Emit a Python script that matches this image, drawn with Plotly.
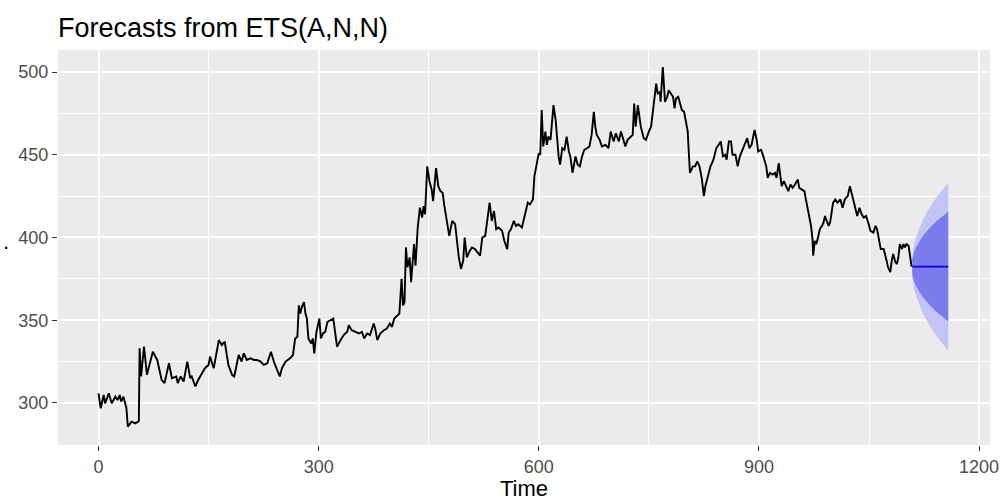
import plotly.graph_objects as go

# Observed series (time index, value)
time = [0, 3, 7, 9, 14, 18, 23, 26, 29, 31, 34, 38, 40, 45, 50, 55, 56, 58, 62, 66,
        74, 80, 86, 90, 96, 100, 106, 108, 112, 116, 121, 125, 127, 132, 136, 141, 145, 150, 152, 157,
        159, 164, 168, 172, 177, 182, 185, 191, 195, 198, 202, 207, 212, 216, 221, 225, 230, 235, 239, 242,
        247, 250, 255, 261, 265, 268, 271, 273, 275, 277, 280, 282, 284, 286, 290, 292, 294, 297, 301, 303,
        306, 309, 312, 316, 320, 323, 325, 330, 334, 339, 341, 345, 350, 355, 359, 362, 366, 370, 375, 377,
        380, 384, 389, 393, 397, 400, 403, 407, 410, 413, 415, 417, 419, 421, 424, 426, 430, 432, 435, 438,
        441, 443, 445, 448, 451, 454, 456, 460, 463, 466, 469, 471, 475, 478, 482, 486, 488, 491, 494, 497,
        499, 502, 506, 509, 513, 517, 520, 523, 527, 530, 533, 536, 539, 542, 545, 550, 553, 557, 559, 562,
        566, 569, 572, 577, 580, 583, 585, 588, 592, 594, 597, 600, 602, 604, 606, 609, 611, 613, 616, 620,
        623, 627, 629, 632, 635, 638, 641, 643, 646, 650, 653, 656, 659, 662, 666, 669, 672, 675, 677, 679,
        683, 686, 691, 695, 698, 702, 705, 709, 712, 715, 718, 721, 725, 728, 730, 732, 735, 737, 739, 743,
        746, 750, 753, 756, 760, 762, 765, 766, 769, 772, 775, 777, 780, 783, 785, 787, 790, 793, 795, 798,
        800, 803, 804, 806, 810, 813, 816, 819, 822, 825, 827, 830, 834, 836, 838, 842, 845, 848, 851, 854,
        856, 859, 862, 864, 868, 871, 874, 878, 881, 884, 887, 890, 894, 897, 899, 903, 906, 910, 912, 915,
        919, 922, 924, 927, 929, 931, 934, 937, 940, 943, 946, 949, 953, 955, 958, 962, 964, 966, 969, 971,
        973, 974, 976, 978, 980, 983, 986, 988, 990, 992, 995, 997, 1001, 1004, 1007, 1011, 1014, 1017, 1021, 1024,
        1028, 1031, 1034, 1037, 1040, 1043, 1046, 1049, 1052, 1056, 1059, 1061, 1064, 1066, 1070, 1072, 1074, 1076, 1079, 1081,
        1083, 1086, 1088, 1090, 1092, 1095, 1097, 1099, 1101, 1104, 1106, 1108]

value = [305.8, 296.8, 304.8, 299.8, 305.8, 299.8, 303.8, 301.8, 304.8, 300.8, 303.8, 297, 285.7, 288.7, 287.7, 289, 333, 316, 334, 317,
         331, 326, 314, 312, 324, 315, 316, 312, 316, 313, 325, 315, 316, 310, 314, 318, 321, 323, 328, 321,
         326, 338, 335, 337, 323, 317, 316, 329, 325, 330, 326, 327, 326, 326, 325, 323, 324, 331, 325, 322,
         316, 321, 325, 327, 329, 339, 340, 359, 354, 358, 361, 354, 351, 339, 336, 339, 330, 343, 351, 339,
         342, 343, 349, 350, 351, 341, 334, 338, 341, 343, 347, 344, 343, 342, 343, 339, 342, 341, 348, 345,
         338, 342, 344, 345, 348, 346, 351, 353, 354, 375, 359, 361, 394, 382, 388, 373, 396, 383, 406, 418,
         412, 419, 414, 443, 434, 429, 422, 442, 431, 428, 427, 420, 410, 401, 410, 408, 400, 388, 381, 386,
         400, 388, 392, 394, 393, 391, 389, 400, 401, 411, 421, 410, 416, 405, 406, 404, 398, 393, 403, 405,
         410, 407, 408, 406, 411, 416, 421, 420, 423, 437, 444, 451, 450, 477, 455, 464, 456, 461, 459, 480,
         471, 449, 444, 454, 453, 461, 452, 449, 439, 449, 444, 443, 449, 453, 454, 455, 462, 476, 467, 462,
         459, 455, 456, 454, 464, 458, 463, 458, 464, 460, 455, 459, 461, 462, 481, 467, 480, 472, 467, 460,
         459, 464, 467, 478, 493, 487, 488, 482, 503, 482, 485, 489, 487, 485, 478, 484, 485, 481, 477, 476,
         470, 464, 455, 439, 443, 443, 446, 443, 436, 425, 431, 437, 443, 445, 447, 454, 456, 458, 449, 450,
         447, 458, 458, 450, 450, 443, 449, 453, 457, 460, 454, 456, 465, 459, 452, 453, 449, 443, 436, 439,
         438, 439, 436, 445, 438, 431, 434, 431, 428, 432, 430, 432, 435, 430, 429, 428, 423, 418, 413, 407,
         399, 389, 398, 396, 399, 405, 407, 409, 413, 411, 407, 409, 421, 423, 421, 423, 418, 423, 425, 431,
         424, 417, 413, 418, 414, 412, 413, 409, 404, 403, 407, 405, 396, 393, 393, 390, 386, 382, 379, 386,
         390, 385, 384, 388, 396, 393, 396, 394, 396, 395, 388, 382.4]

# Forecast horizon (time index) with point forecast and prediction intervals
fc_time = [1109, 1110, 1112, 1115, 1118, 1123, 1128, 1133, 1138, 1143, 1148, 1153, 1158]
fc_mean = [382.4] * 13
lo80 = [377.7, 375.8, 373.0, 370.0, 367.6, 364.2, 361.4, 358.9, 356.7, 354.6, 352.7, 350.9, 349.2]
hi80 = [387.1, 389.0, 391.8, 394.8, 397.2, 400.6, 403.4, 405.9, 408.1, 410.2, 412.1, 413.9, 415.6]
lo95 = [375.2, 372.3, 368.0, 363.4, 359.7, 354.6, 350.3, 346.5, 343.1, 339.9, 337.0, 334.2, 331.6]
hi95 = [389.6, 392.5, 396.8, 401.4, 405.1, 410.2, 414.5, 418.3, 421.7, 424.9, 427.8, 430.6, 433.2]

x_ticks = [0, 300, 600, 900, 1200]
y_ticks = [300, 350, 400, 450, 500]

FONT = "Liberation Sans, Arial, sans-serif"

fig = go.Figure()

# 95% interval
fig.add_trace(go.Scatter(x=fc_time, y=lo95, mode="lines", line=dict(width=0),
                         hoverinfo="skip", showlegend=False))
fig.add_trace(go.Scatter(x=fc_time, y=hi95, mode="lines", line=dict(width=0),
                         fill="tonexty", fillcolor="#C4C4F4", hoverinfo="skip", showlegend=False))
# 80% interval
fig.add_trace(go.Scatter(x=fc_time, y=lo80, mode="lines", line=dict(width=0),
                         hoverinfo="skip", showlegend=False))
fig.add_trace(go.Scatter(x=fc_time, y=hi80, mode="lines", line=dict(width=0),
                         fill="tonexty", fillcolor="#7B7BEC", hoverinfo="skip", showlegend=False))

# Observed series
fig.add_trace(go.Scatter(x=time, y=value, mode="lines",
                         line=dict(color="black", width=1.9), showlegend=False))
# Point forecast
fig.add_trace(go.Scatter(x=fc_time, y=fc_mean, mode="lines",
                         line=dict(color="#0000E0", width=1.8), showlegend=False))

axis_common = dict(
    automargin=False,
    showline=False, zeroline=False, showgrid=True, gridcolor="white", gridwidth=2,
    ticks="outside", ticklen=5, tickwidth=1.1, tickcolor="#333333",
    tickfont=dict(family=FONT, size=18, color="#4D4D4D"),
)

fig.update_layout(
    width=1003, height=501,
    margin=dict(l=57.5, r=13, t=50, b=56),
    paper_bgcolor="white", plot_bgcolor="#EBEBEB",
    title=dict(text="Forecasts from ETS(A,N,N)", x=0, xref="paper", xanchor="left",
               y=1 - 28 / 501, yref="container", yanchor="middle",
               font=dict(family=FONT, size=27, color="black")),
    xaxis=dict(range=[-55.2, 1214.9], tickvals=x_ticks, ticktext=[str(v) for v in x_ticks],
               minor=dict(tickvals=[150, 450, 750, 1050], showgrid=True, gridcolor="white", gridwidth=1),
               title=dict(text="Time", font=dict(family=FONT, size=22, color="black"), standoff=8),
               **axis_common),
    yaxis=dict(range=[274.6, 513.3], tickvals=y_ticks, ticktext=[str(v) for v in y_ticks],
               minor=dict(tickvals=[275, 325, 375, 425, 475], showgrid=True, gridcolor="white", gridwidth=1),
               **axis_common),
    # y-axis title (a single dot)
    annotations=[dict(text=".", xref="paper", yref="paper", x=(0 - 57.5) / 932.5,
                      y=(445 - 241) / 395, xanchor="left", yanchor="middle",
                      showarrow=False, font=dict(family=FONT, size=22, color="black"))],
)

fig.write_html("out.html")
